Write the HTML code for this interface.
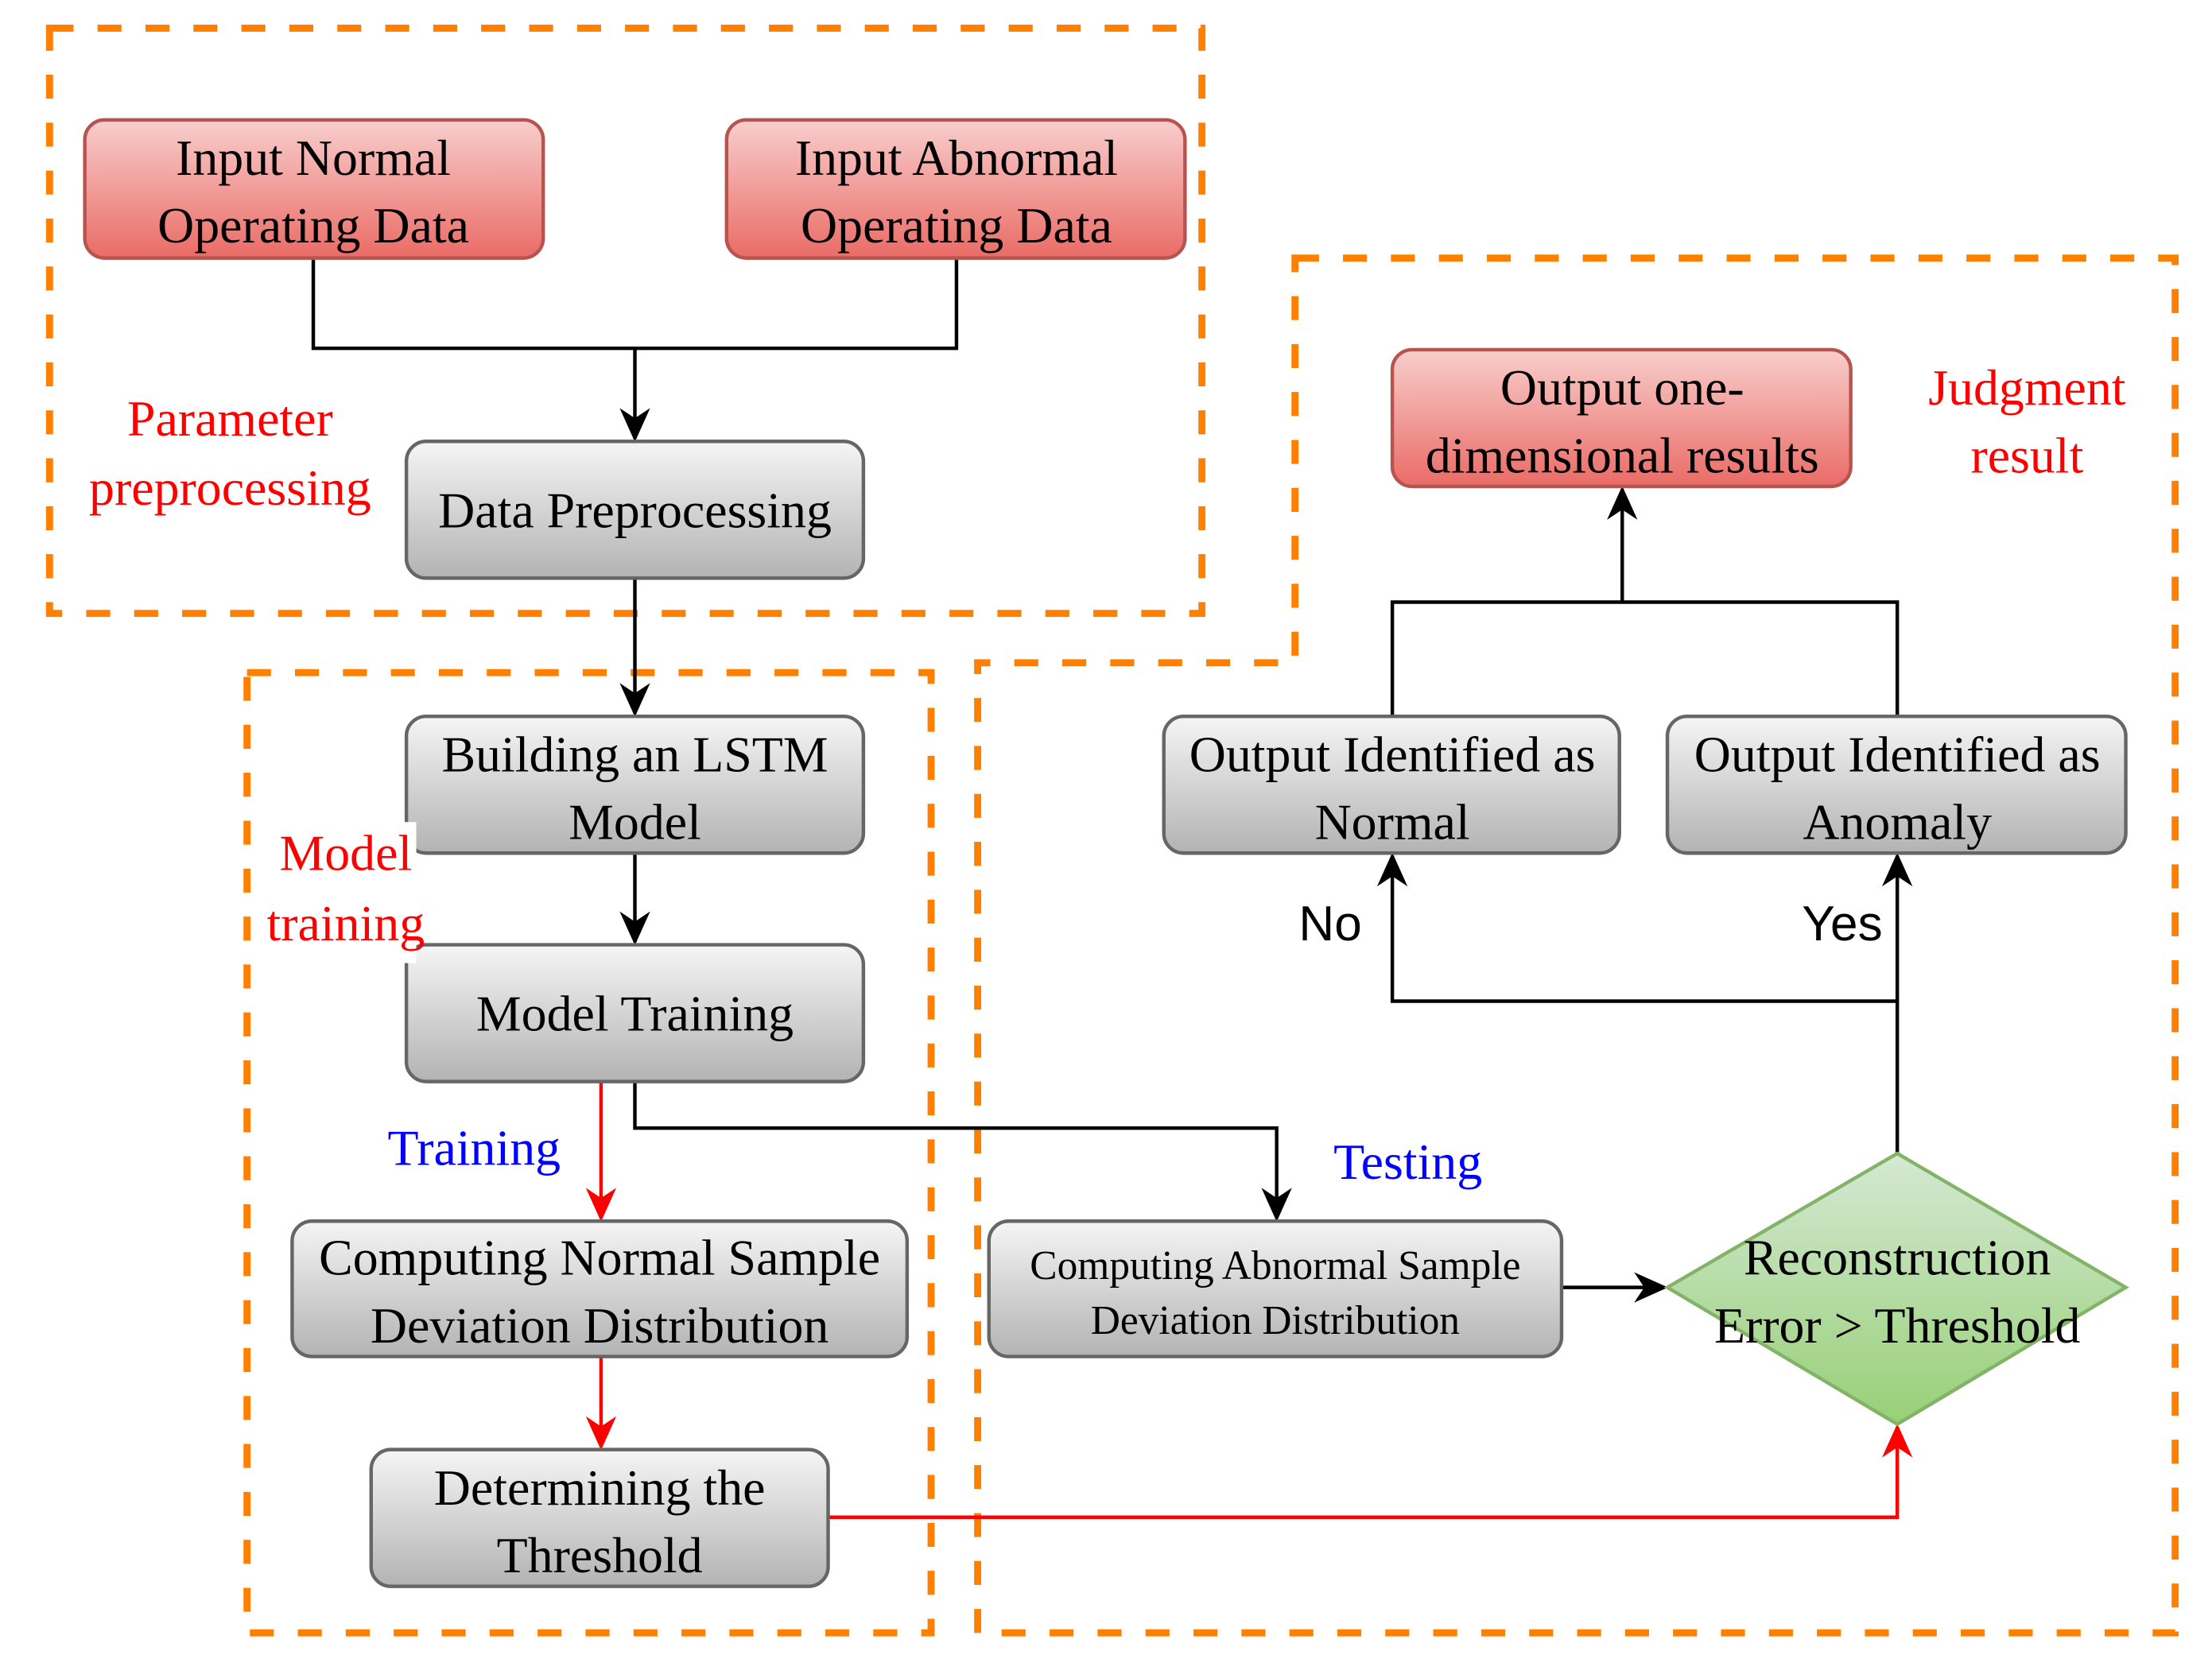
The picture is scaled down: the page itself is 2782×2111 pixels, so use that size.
<!DOCTYPE html>
<html><head><meta charset="utf-8"><style>
html,body{margin:0;padding:0;background:#fff;}
svg{display:block;}
</style></head><body>
<svg width="2782" height="2111" viewBox="0 0 1568 1190" xmlns="http://www.w3.org/2000/svg">
<defs>
<linearGradient id="gr" x1="0" y1="0" x2="0" y2="1"><stop offset="0" stop-color="#f8cecc"/><stop offset="1" stop-color="#ea6b66"/></linearGradient>
<linearGradient id="gg" x1="0" y1="0" x2="0" y2="1"><stop offset="0" stop-color="#f5f5f5"/><stop offset="1" stop-color="#b3b3b3"/></linearGradient>
<linearGradient id="gn" x1="0" y1="0" x2="0" y2="1"><stop offset="0" stop-color="#d5e8d4"/><stop offset="1" stop-color="#97d077"/></linearGradient>
<marker id="ab" viewBox="0 0 20 20" refX="18" refY="10" markerWidth="24" markerHeight="24" markerUnits="userSpaceOnUse" orient="auto"><path d="M0,1 L20,10 L0,19 L6,10 Z" fill="#000"/></marker>
<marker id="ar" viewBox="0 0 20 20" refX="18" refY="10" markerWidth="24" markerHeight="24" markerUnits="userSpaceOnUse" orient="auto"><path d="M0,1 L20,10 L0,19 L6,10 Z" fill="#f00"/></marker>
</defs>
<g fill="none" stroke="#ff8000" stroke-width="5" stroke-dasharray="17,17">
<rect x="35" y="20" width="817" height="415"/>
<path d="M918,183 L1542,183 L1542,1158 L693,1158 L693,470 L918,470 Z"/>
<rect x="175" y="477" width="485" height="681"/>
</g>
<g fill="none" stroke="#000" stroke-width="2.5">
<path d="M222,183 V247 H678 V183"/>
<path d="M450,247 V311" marker-end="url(#ab)"/>
<path d="M450,410 V506" marker-end="url(#ab)"/>
<path d="M450,605 V668" marker-end="url(#ab)"/>
<path d="M450,767 V800 H905 V864" marker-end="url(#ab)"/>
<path d="M1107,913 H1180" marker-end="url(#ab)"/>
<path d="M1345,818 V710 H987 V607" marker-end="url(#ab)"/>
<path d="M1345,710 V607" marker-end="url(#ab)"/>
<path d="M987,508 V427 H1345 V508"/>
<path d="M1150,427 V347" marker-end="url(#ab)"/>
</g>
<g fill="none" stroke="#f00" stroke-width="2.5">
<path d="M426,767 V864" marker-end="url(#ar)"/>
<path d="M426,962 V1026" marker-end="url(#ar)"/>
<path d="M587,1076 H1345 V1012" marker-end="url(#ar)"/>
</g>
<g stroke-width="2.5">
<rect x="60" y="85" width="325" height="98" rx="14" fill="url(#gr)" stroke="#b85450"/>
<rect x="515" y="85" width="325" height="98" rx="14" fill="url(#gr)" stroke="#b85450"/>
<rect x="987" y="248" width="325" height="97" rx="14" fill="url(#gr)" stroke="#b85450"/>
<rect x="288" y="313" width="324" height="97" rx="14" fill="url(#gg)" stroke="#666"/>
<rect x="288" y="508" width="324" height="97" rx="14" fill="url(#gg)" stroke="#666"/>
<rect x="288" y="670" width="324" height="97" rx="14" fill="url(#gg)" stroke="#666"/>
<rect x="207" y="866" width="436" height="96" rx="14" fill="url(#gg)" stroke="#666"/>
<rect x="263" y="1028" width="324" height="97" rx="14" fill="url(#gg)" stroke="#666"/>
<rect x="701" y="866" width="406" height="96" rx="14" fill="url(#gg)" stroke="#666"/>
<rect x="825" y="508" width="323" height="97" rx="14" fill="url(#gg)" stroke="#666"/>
<rect x="1182" y="508" width="325" height="97" rx="14" fill="url(#gg)" stroke="#666"/>
<path d="M1345,818 L1507,913 L1345,1010 L1182,913 Z" fill="url(#gn)" stroke="#82b366"/>
</g>
<g font-family="Liberation Serif, DejaVu Serif, serif" font-size="36" text-anchor="middle" fill="#000">
<text x="222" y="124">Input Normal</text><text x="222" y="172">Operating Data</text>
<text x="678" y="124">Input Abnormal</text><text x="678" y="172">Operating Data</text>
<text x="1150" y="287">Output one-</text><text x="1150" y="335">dimensional results</text>
<text x="450" y="374">Data Preprocessing</text>
<text x="450" y="547">Building an LSTM</text><text x="450" y="595">Model</text>
<text x="450" y="731">Model Training</text>
<text x="425" y="904">Computing Normal Sample</text><text x="425" y="952">Deviation Distribution</text>
<text x="425" y="1067">Determining the</text><text x="425" y="1115">Threshold</text>
<text x="987" y="547">Output Identified as</text><text x="987" y="595">Normal</text>
<text x="1345" y="547">Output Identified as</text><text x="1345" y="595">Anomaly</text>
<text x="1345" y="904">Reconstruction</text><text x="1345" y="952">Error &gt; Threshold</text>
<text x="904" y="907" font-size="29">Computing Abnormal Sample</text><text x="904" y="946" font-size="29">Deviation Distribution</text>
</g>
<g font-family="Liberation Serif, DejaVu Serif, serif" font-size="36" text-anchor="middle">
<text x="163" y="309" fill="#f00">Parameter</text>
<text x="163" y="358" fill="#f00">preprocessing</text>
<rect x="185" y="583" width="110" height="100" fill="#fff"/>
<text x="245" y="617" fill="#f00">Model</text>
<text x="245" y="667" fill="#f00">training</text>
<text x="1437" y="287" fill="#f00">Judgment</text>
<text x="1437" y="335" fill="#f00">result</text>
<text x="336" y="826" fill="#00f">Training</text>
<text x="998" y="836" fill="#00f">Testing</text>
</g>
<g font-family="Liberation Sans, DejaVu Sans, sans-serif" font-size="35" text-anchor="middle" fill="#000">
<text x="943" y="667">No</text>
<text x="1306" y="667">Yes</text>
</g>
</svg>
</body></html>
